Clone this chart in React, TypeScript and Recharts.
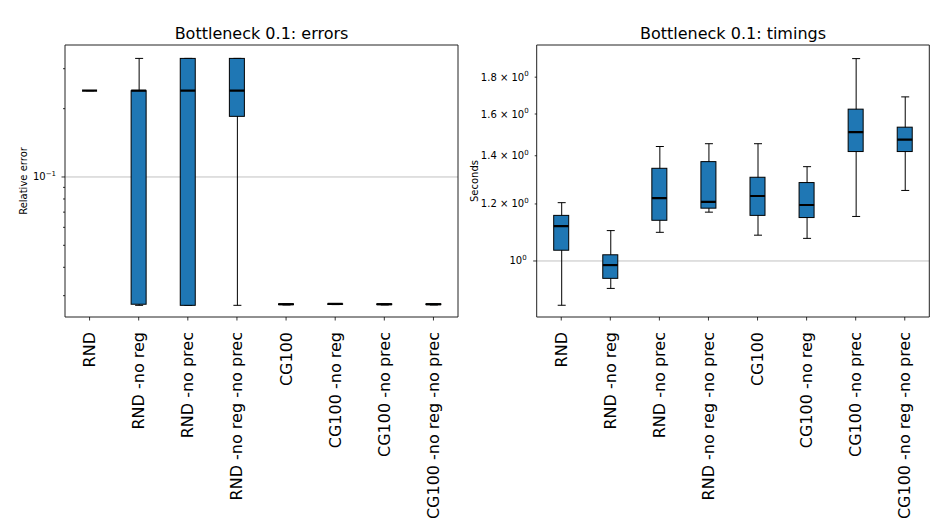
import React from 'react';
import { ComposedChart, Bar, Scatter, XAxis, YAxis, CartesianGrid, ReferenceArea } from 'recharts';

const categories = [
  'RND',
  'RND -no reg',
  'RND -no prec',
  'RND -no reg -no prec',
  'CG100',
  'CG100 -no reg',
  'CG100 -no prec',
  'CG100 -no reg -no prec',
];

// Errors: whisker low, q1, median, q3, whisker high
const errLow = [0.24, 0.0272, 0.0272, 0.0272, 0.0273, 0.0274, 0.0273, 0.0273];
const errQ1 = [0.24, 0.0275, 0.0272, 0.185, 0.0274, 0.0275, 0.0274, 0.0274];
const errMed = [0.24, 0.24, 0.24, 0.24, 0.0275, 0.0276, 0.0275, 0.0275];
const errQ3 = [0.24, 0.24, 0.333, 0.333, 0.0276, 0.0276, 0.0276, 0.0276];
const errHigh = [0.24, 0.333, 0.333, 0.333, 0.0276, 0.0276, 0.0276, 0.0276];

// Timings (seconds)
const timLow = [0.868, 0.916, 1.096, 1.169, 1.086, 1.075, 1.153, 1.253];
const timQ1 = [1.035, 0.946, 1.139, 1.184, 1.157, 1.149, 1.419, 1.419];
const timMed = [1.118, 0.987, 1.223, 1.208, 1.231, 1.196, 1.51, 1.474];
const timQ3 = [1.157, 1.02, 1.345, 1.374, 1.307, 1.285, 1.625, 1.534];
const timHigh = [1.205, 1.102, 1.442, 1.455, 1.455, 1.352, 1.91, 1.69];

const errDomain = [0.02416, 0.3815];
const timDomain = [0.836, 1.995];
const errTicks = [0.03, 0.04, 0.05, 0.06, 0.07, 0.08, 0.09, 0.1, 0.2, 0.3];
const errMajor = [0.1];
const timTicks = [1.0, 1.2, 1.4, 1.6, 1.8];
const timMajor = [1.0];
const timTickLabels = ['', '1.2 × 10', '1.4 × 10', '1.6 × 10', '1.8 × 10'];

const FONT = 'DejaVu Sans, sans-serif';
const BLUE = '#1f77b4';
const PLOT_BOTTOM = 317;

function buildRows(lo: number[], q1: number[], med: number[], q3: number[], hi: number[]) {
  return categories.map((name, i) => ({
    name,
    wh: [lo[i], hi[i]],
    box: [q1[i], q3[i]],
    med: med[i],
  }));
}

const errRows = buildRows(errLow, errQ1, errMed, errQ3, errHigh);
const timRows = buildRows(timLow, timQ1, timMed, timQ3, timHigh);

const Whisker = (p: any) => {
  const { x, y, width, height } = p;
  if (x == null || y == null) return null;
  const y0 = Math.min(y, y + height);
  const y1 = Math.max(y, y + height);
  const cx = x + width / 2;
  return (
    <g stroke="#000" strokeWidth={1}>
      <line x1={cx} x2={cx} y1={y0} y2={y1} />
      <line x1={x} x2={x + width} y1={y0} y2={y0} />
      <line x1={x} x2={x + width} y1={y1} y2={y1} />
    </g>
  );
};

const BoxRect = (p: any) => {
  const { x, y, width, height } = p;
  if (x == null || y == null) return null;
  const y0 = Math.min(y, y + height);
  const h = Math.abs(height);
  return <rect x={x} y={y0} width={width} height={h} fill={BLUE} stroke="#000" strokeWidth={1} />;
};

const Median = (p: any) => {
  const { cx, cy } = p;
  if (cx == null || cy == null) return null;
  return <line x1={cx - 7.5} x2={cx + 7.5} y1={cy} y2={cy} stroke="#000" strokeWidth={2.2} />;
};

const XTick = (p: any) => {
  const { x, payload } = p;
  const y = PLOT_BOTTOM;
  return (
    <g>
      <line x1={x} x2={x} y1={y} y2={y + 3.5} stroke="#000" strokeWidth={0.8} />
      <text
        transform={`translate(${x + 5.5},${y + 15}) rotate(-90)`}
        textAnchor="end"
        fontSize={16}
        fontFamily={FONT}
        fill="#000"
      >
        {payload.value}
      </text>
    </g>
  );
};

const ErrTick = (p: any) => {
  const { x, y, payload } = p;
  const v = payload.value;
  const major = errMajor.some((m) => Math.abs(m - v) < 1e-9);
  const len = major ? 3.5 : 2;
  return (
    <g>
      <line x1={x - len} x2={x} y1={y} y2={y} stroke="#000" strokeWidth={0.8} />
      {major && (
        <text x={x - 9} y={y + 3.5} textAnchor="end" fontSize={10} fontFamily={FONT} fill="#000">
          10<tspan dy={-4.5} fontSize={7}>−1</tspan>
        </text>
      )}
    </g>
  );
};

const TimTick = (p: any) => {
  const { x, y, payload } = p;
  const v = payload.value;
  const major = timMajor.some((m) => Math.abs(m - v) < 1e-9);
  const len = major ? 3.5 : 2;
  const i = timTicks.findIndex((t) => Math.abs(t - v) < 1e-9);
  const base = i >= 0 && timTickLabels[i] ? timTickLabels[i] : '10';
  return (
    <g>
      <line x1={x - len} x2={x} y1={y} y2={y} stroke="#000" strokeWidth={0.8} />
      <text x={major ? x - 10 : x - 8} y={y + 3.5} textAnchor="end" fontSize={10} fontFamily={FONT} fill="#000">
        {base}
        <tspan dy={-4.5} fontSize={7}>0</tspan>
      </text>
    </g>
  );
};

function BoxChart(props: {
  rows: any[];
  domain: number[];
  ticks: number[];
  majors: number[];
  tick: any;
  width: number;
  margin: any;
  yWidth: number;
}) {
  const { rows, domain, ticks, majors, tick, width, margin, yWidth } = props;
  return (
    <ComposedChart width={width} height={531} data={rows} margin={margin}>
      <CartesianGrid
        xAxisId="main"
        vertical={false}
        horizontalValues={majors}
        stroke="#b0b0b0"
        strokeWidth={0.8}
      />
      <XAxis
        xAxisId="main"
        dataKey="name"
        type="category"
        interval={0}
        height={200}
        tick={<XTick />}
        tickLine={false}
        axisLine={false}
        tickSize={0}
        tickMargin={0}
      />
      <XAxis xAxisId="box" dataKey="name" type="category" hide />
      <XAxis xAxisId="wh" dataKey="name" type="category" hide />
      <YAxis
        type="number"
        scale="log"
        domain={domain}
        allowDataOverflow
        ticks={ticks}
        interval={0}
        width={yWidth}
        tick={tick}
        tickLine={false}
        axisLine={false}
        tickSize={0}
        tickMargin={0}
      />
      <Bar xAxisId="wh" dataKey="wh" barSize={8} shape={Whisker} isAnimationActive={false} />
      <Bar xAxisId="box" dataKey="box" barSize={15} shape={BoxRect} isAnimationActive={false} />
      <Scatter xAxisId="main" dataKey="med" shape={Median} isAnimationActive={false} />
      <ReferenceArea
        xAxisId="main"
        x1={categories[0]}
        x2={categories[categories.length - 1]}
        fill="none"
        fillOpacity={0}
        stroke="#222"
        strokeWidth={1}
        ifOverflow="visible"
      />
    </ComposedChart>
  );
}

export default function App() {
  return (
    <div
      style={{
        position: 'absolute',
        left: 0,
        top: 0,
        width: 947,
        height: 531,
        background: '#fff',
        fontFamily: FONT,
      }}
    >
      <div style={{ position: 'absolute', left: 0, top: 0 }}>
        <BoxChart
          rows={errRows}
          domain={errDomain}
          ticks={errTicks}
          majors={errMajor}
          tick={<ErrTick />}
          width={470}
          margin={{ top: 45, right: 12, bottom: 14, left: 20 }}
          yWidth={45}
        />
      </div>
      <div style={{ position: 'absolute', left: 470, top: 0 }}>
        <BoxChart
          rows={timRows}
          domain={timDomain}
          ticks={timTicks}
          majors={timMajor}
          tick={<TimTick />}
          width={477}
          margin={{ top: 45, right: 17.7, bottom: 14, left: 6.7 }}
          yWidth={60}
        />
      </div>
      <svg
        width={947}
        height={531}
        style={{ position: 'absolute', left: 0, top: 0, pointerEvents: 'none' }}
      >
        <text x={261.5} y={38.5} textAnchor="middle" fontSize={16} fontFamily={FONT} fill="#000">
          Bottleneck 0.1: errors
        </text>
        <text x={733} y={38.5} textAnchor="middle" fontSize={16} fontFamily={FONT} fill="#000">
          Bottleneck 0.1: timings
        </text>
        <text
          transform="translate(26.5,181) rotate(-90)"
          textAnchor="middle"
          fontSize={10}
          fontFamily={FONT}
          fill="#000"
        >
          Relative error
        </text>
        <text
          transform="translate(477.5,181) rotate(-90)"
          textAnchor="middle"
          fontSize={10}
          fontFamily={FONT}
          fill="#000"
        >
          Seconds
        </text>
      </svg>
    </div>
  );
}
